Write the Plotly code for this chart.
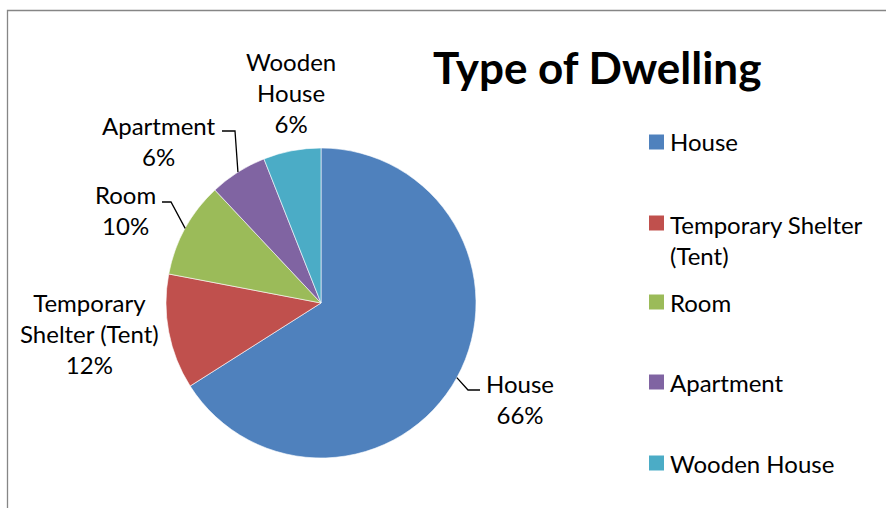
import math
import plotly.graph_objects as go

# Dwelling types and their shares (%)
labels = ["House", "Temporary Shelter (Tent)", "Room", "Apartment", "Wooden House"]
values = [66, 12, 10, 6, 6]
colors = ["#4F81BD", "#C0504D", "#9BBB59", "#8064A2", "#4BACC6"]

# Wrapped versions of the category names for the data labels and the legend
data_label_text = ["House", "Temporary<br>Shelter (Tent)", "Room", "Apartment", "Wooden<br>House"]
legend_text = ["House", "Temporary Shelter<br>(Tent)", "Room", "Apartment", "Wooden House"]

W, H = 886, 508
FONT = "Lato"
FS = 24
CX, CY, R = 321, 303, 155  # pie centre and radius in pixels


def px(x):
    return x / W


def py(y):
    return 1 - y / H


fig = go.Figure(
    go.Pie(
        labels=labels,
        values=values,
        marker=dict(colors=colors, line=dict(color="white", width=0.6)),
        sort=False,
        direction="clockwise",
        rotation=0,
        textinfo="none",
        hoverinfo="label+percent",
        showlegend=False,
        domain=dict(x=[px(CX - R), px(CX + R)], y=[py(CY + R), py(CY - R)]),
    )
)

total = sum(values)
pct = [round(v * 100 / total) for v in values]

# Mid-angle of every slice (clockwise from 12 o'clock), used for leader lines
mid_angles = []
acc = 0
for v in values:
    mid_angles.append((acc + v / 2) / total * 2 * math.pi)
    acc += v


def edge_point(i):
    a = mid_angles[i]
    return CX + R * math.sin(a), CY - R * math.cos(a)


annotations = []
shapes = []

# Data label placement: (centre x, centre y) in pixels
label_pos = {
    0: (520, 399),
    1: (89, 333),
    2: (125, 210),
    3: (159, 141),
    4: (291, 92),
}
for i, (lx, ly) in label_pos.items():
    annotations.append(dict(
        x=px(lx), y=py(ly), xref="paper", yref="paper",
        text=f"{data_label_text[i]}<br>{pct[i]}%",
        showarrow=False, xanchor="center", yanchor="middle", align="center",
        font=dict(family=FONT, size=FS, color="black"),
    ))

# Leader lines: start point and elbow near the label, end on the slice edge
leaders = {
    0: [(480, 390), (468, 390)],
    2: [(162, 202), (171, 202)],
    3: [(222, 131), (235, 131)],
}
for i, pts in leaders.items():
    ex, ey = edge_point(i)
    pts = pts + [(ex, ey)]
    path = "M " + " L ".join(f"{px(x)},{py(y)}" for x, y in pts)
    shapes.append(dict(type="path", xref="paper", yref="paper", path=path,
                       line=dict(color="black", width=1.3)))

# Title
annotations.append(dict(
    x=px(597), y=py(67), xref="paper", yref="paper",
    text="<b>Type of Dwelling</b>", showarrow=False,
    xanchor="center", yanchor="middle",
    font=dict(family=FONT, size=44, color="black"),
))

# Legend: coloured squares with names
legend_y = [142, 223, 302, 382, 463]
line_h = 33
for i, ly in enumerate(legend_y):
    shapes.append(dict(type="rect", xref="paper", yref="paper",
                       x0=px(649), x1=px(664), y0=py(ly + 7.5), y1=py(ly - 7.5),
                       fillcolor=colors[i], line=dict(width=0)))
    n_lines = legend_text[i].count("<br>") + 1
    annotations.append(dict(
        x=px(668), y=py(ly + (n_lines - 1) * line_h / 2), xref="paper", yref="paper",
        text=legend_text[i], showarrow=False,
        xanchor="left", yanchor="middle", align="left",
        font=dict(family=FONT, size=FS, color="black"),
    ))

# Chart frame (top and left edges visible)
shapes.append(dict(type="rect", xref="paper", yref="paper",
                   x0=px(7.5), x1=px(W + 20), y0=py(H + 20), y1=py(10.5),
                   line=dict(color="#868686", width=1.3)))

fig.update_layout(
    width=W, height=H,
    margin=dict(l=0, r=0, t=0, b=0),
    paper_bgcolor="white",
    plot_bgcolor="white",
    annotations=annotations,
    shapes=shapes,
)

fig.write_html("out.html")
